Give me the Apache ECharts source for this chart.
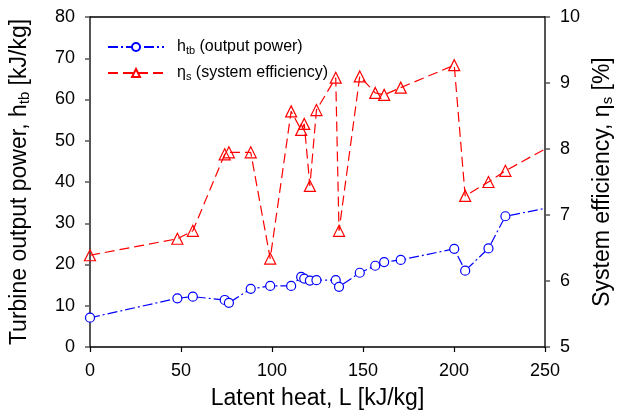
<!DOCTYPE html>
<html>
<head>
<meta charset="utf-8">
<script src="https://cdn.jsdelivr.net/npm/echarts@6/dist/echarts.min.js"></script>
<style>html,body{margin:0;padding:0;background:#fff}#c{width:623px;height:418px}</style>
</head>
<body>
<div id="c"></div>
<script>
// Latent heat L [kJ/kg]
var latentHeat = [0, 48, 56.5, 74, 76.3, 88.3, 99, 110.5, 116, 117.7, 120.8, 124.4, 135, 136.8, 148.2, 156.7, 161.6, 170.7, 200.1, 206.1, 218.9, 228.2, 250];
// Turbine output power h_tb [kJ/kg]
var outputPower = [7.1, 11.8, 12.2, 11.4, 10.7, 14.1, 14.8, 14.8, 17.0, 16.6, 16.1, 16.2, 16.2, 14.6, 18.0, 19.7, 20.6, 21.1, 23.8, 18.5, 23.9, 31.7, 33.6];
// System efficiency eta_s [%]
var efficiency = [6.39, 6.64, 6.76, 7.92, 7.95, 7.95, 6.34, 8.57, 8.29, 8.38, 7.44, 8.59, 9.08, 6.76, 9.10, 8.85, 8.82, 8.93, 9.27, 7.29, 7.50, 7.67, 8.0];
var xTicks = [0, 50, 100, 150, 200, 250];
var leftTicks = [0, 10, 20, 30, 40, 50, 60, 70, 80];
var rightTicks = [5, 6, 7, 8, 9, 10];

function buildData(xs, ys) {
  return xs.map(function (x, i) {
    var item = { value: [x, ys[i]] };
    if (i === xs.length - 1) item.symbol = 'none';
    return item;
  });
}

var FONT = 'Liberation Sans, Arial, sans-serif';
var subRich = {
  a: { fontSize: 23, fontFamily: FONT, color: '#000' },
  s: { fontSize: 15, fontFamily: FONT, color: '#000', padding: [10, 0, 0, 0] }
};
var legRich = {
  a: { fontSize: 16, fontFamily: FONT, color: '#000' },
  p: { fontSize: 16, fontFamily: FONT, color: '#000', padding: [0, 0, 0, 8] },
  s: { fontSize: 11, fontFamily: FONT, color: '#000', padding: [7, 0, 0, 0] }
};

var chart = echarts.init(document.getElementById('c'), null, { renderer: 'canvas' });
chart.setOption({
  animation: false,
  backgroundColor: '#fff',
  grid: { left: 90, right: 75, top: 17, bottom: 71, containLabel: false },
  legend: {
    orient: 'vertical',
    left: 102,
    top: 34,
    itemWidth: 56,
    itemHeight: 10,
    itemGap: 9,
    textStyle: { fontSize: 16, fontFamily: FONT, color: '#000', rich: legRich },
    formatter: function (name) {
      if (name === 'htb') return '{p|h}{s|tb}{a| (output power)}';
      return '{p|η}{s|s}{a| (system efficiency)}';
    },
    data: ['htb', 'eta']
  },
  xAxis: [{
    type: 'value', min: 0, max: 250, interval: 50, position: 'bottom',
    name: 'Latent heat, L [kJ/kg]', nameLocation: 'middle', nameGap: 40,
    nameTextStyle: { fontSize: 23, fontFamily: FONT, color: '#000' },
    axisLine: { show: true, onZero: false, lineStyle: { color: '#000', width: 1.5 } },
    axisTick: { show: true, inside: false, length: 5, lineStyle: { color: '#000', width: 1.2 } },
    axisLabel: { fontSize: 18, fontFamily: FONT, color: '#000', margin: 15,
      formatter: function (v) { return xTicks.indexOf(v) >= 0 ? String(v) : ''; } },
    splitLine: { show: false }, minorTick: { show: false }
  }, {
    type: 'value', min: 0, max: 250, interval: 50, position: 'top',
    axisLine: { show: true, onZero: false, lineStyle: { color: '#000', width: 1.5 } },
    axisTick: { show: false }, axisLabel: { show: false }, splitLine: { show: false }
  }],
  yAxis: [{
    type: 'value', min: 0, max: 80, interval: 10, position: 'left',
    name: '{a|Turbine output power, h}{s|tb}{a| [kJ/kg]}',
    nameLocation: 'middle', nameRotate: 90, nameGap: 58,
    nameTextStyle: { rich: subRich },
    axisLine: { show: true, onZero: false, lineStyle: { color: '#555', width: 2 } },
    axisTick: { show: true, inside: false, length: 5, lineStyle: { color: '#555', width: 1.5 } },
    axisLabel: { fontSize: 18, fontFamily: FONT, color: '#000', margin: 15,
      formatter: function (v) { return leftTicks.indexOf(v) >= 0 ? String(v) : ''; } },
    splitLine: { show: false }, minorTick: { show: false }
  }, {
    type: 'value', min: 5, max: 10, interval: 1, position: 'right', alignTicks: false,
    name: '{a|System efficiency, η}{s|s}{a| [%]}',
    nameLocation: 'middle', nameRotate: 90, nameGap: 44,
    nameTextStyle: { rich: subRich },
    axisLine: { show: true, onZero: false, lineStyle: { color: '#555', width: 2 } },
    axisTick: { show: true, inside: false, length: 5, lineStyle: { color: '#555', width: 1.5 } },
    axisLabel: { fontSize: 18, fontFamily: FONT, color: '#000', margin: 15,
      formatter: function (v) { return rightTicks.indexOf(v) >= 0 ? String(v) : ''; } },
    splitLine: { show: false }, minorTick: { show: false }
  }],
  series: [{
    name: 'htb', type: 'line', xAxisIndex: 0, yAxisIndex: 0,
    data: buildData(latentHeat, outputPower),
    symbol: 'circle', symbolSize: 9, showAllSymbol: true,
    itemStyle: { color: '#fff', borderColor: '#0000ff', borderWidth: 1.2 },
    lineStyle: { color: '#0000ff', width: 1.2, type: [10, 3, 2, 3] },
    z: 3
  }, {
    name: 'eta', type: 'line', xAxisIndex: 0, yAxisIndex: 1,
    data: buildData(latentHeat, efficiency),
    symbol: 'triangle', symbolSize: 11, showAllSymbol: true,
    itemStyle: { color: 'rgba(255,255,255,0)', borderColor: '#ff0000', borderWidth: 1.2 },
    lineStyle: { color: '#ff0000', width: 1.2, type: [10, 5] },
    z: 3
  }]
});
</script>
</body>
</html>
